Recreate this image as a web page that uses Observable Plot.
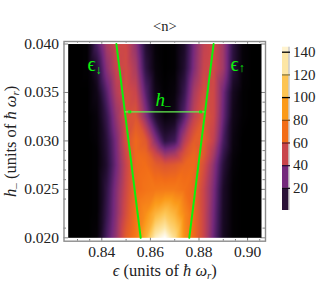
<!DOCTYPE html>
<html><head><meta charset="utf-8">
<script src="https://cdn.jsdelivr.net/npm/d3@7"></script>
<script src="https://cdn.jsdelivr.net/npm/@observablehq/plot@0.6"></script>
<style>
html,body{margin:0;padding:0;background:#fff}
#wrap{position:relative;width:316px;height:300px;overflow:hidden}
#wrap svg{position:absolute;left:0;top:0;background:transparent}
</style></head><body><div id="wrap"></div>
<script>
const epsilon = [.826,.83,.834,.838,.842,.846,.85,.854,.858,.862,.866,.87,.874,.878,.882,.886,.89,.894,.898,.902,.906];
const hRows = [.04,.0375,.035,.0325,.03,.02875,.0275,.025,.0225,.02];
const nRow040 = [0,0,1,22,42,52,52,36,12,2,0,1,10,31,48,53,40,15,2,0,0];
const nRow0375 = [0,0,1,12,35,50,53,42,16,3,0,1,12,33,50,53,40,14,2,0,0];
const nRow035 = [0,0,0,6,25,45,55,50,25,6,1,3,18,42,55,52,30,8,1,0,0];
const nRow0325 = [0,0,0,3,18,38,56,58,35,12,3,6,25,48,60,52,28,6,1,0,0];
const nRow030 = [0,0,0,2,14,32,55,68,60,35,15,20,45,62,62,48,22,4,0,0,0];
const nRow02875 = [0,0,0,1,13,31,52,68,66,50,36,40,56,66,60,42,18,3,0,0,0];
const nRow0275 = [0,0,0,1,12,30,50,68,70,62,58,60,66,68,55,36,14,2,0,0,0];
const nRow025 = [0,0,0,1,16,34,52,68,73,75,76,76,72,66,50,32,10,1,0,0,0];
const nRow0225 = [0,0,0,1,18,35,55,72,85,102,112,102,82,68,50,30,9,1,0,0,0];
const nRow020 = [0,0,0,2,22,38,62,76,100,135,145,125,85,68,50,28,8,1,0,0,0];
const nRows = [nRow040,nRow0375,nRow035,nRow0325,nRow030,nRow02875,nRow0275,nRow025,nRow0225,nRow020];
const colorStops = [0,10,20,30,40,50,60,70,90,110,130,145];
const colorRange = ["#000000","#1c0b28","#401a58","#74297c","#a03a68","#c9454c","#e05a2e","#f26d18","#fb9a1a","#fdc452","#fde6a4","#ffffff"];
const xMajor = [.84,.86,.88,.90];
const xMinor = [.83,.835,.85,.87,.89,.895,.905];
const yMajor = [.02,.025,.03,.035,.04];
const yMinor = [.021,.024,.026,.027,.028,.029,.032,.033,.034];
const lineDown = [{h:.02,e:.856},{h:.04,e:.846}];
const lineUp = [{h:.02,e:.876},{h:.04,e:.886}];
const gapH = .033, gapFrom = .8497, gapTo = .8825;
const barEdges = [0.5,20,40,60,80,100,120,140,144.4];
const barColors = ["#2a1238","#74297c","#c9454c","#f26d18","#fb9a1a","#fdc452","#fde6a4","#fff3cf"];
const barTicks = [20,40,60,80,100,120,140];
const barTickColors = ["#140818","#2a1238","#6b1a1a","#8a4a10","#000000","#8a7a40","#000000"];

const grid = hRows.flatMap((h,i)=>epsilon.map((e,j)=>({e,h,n:nRows[i][j]})));
const serif = "'Liberation Serif','Times New Roman',serif";
const green = "#0cf00c";

const main = Plot.plot({
  width:316,height:300,
  marginLeft:63.5,marginRight:51,marginTop:41,marginBottom:59.3,
  style:{fontFamily:serif,background:"transparent"},
  x:{domain:[.82444,.90737],axis:null},
  y:{domain:[.01965,.04026],axis:null},
  color:{type:"linear",domain:colorStops,range:colorRange,clamp:true},
  marks:[
    Plot.ruleX(xMajor,{stroke:"#808080",insetTop:196}),
    Plot.ruleX(xMinor,{stroke:"#808080",insetTop:198}),
    Plot.ruleX(xMajor,{stroke:"#808080",insetBottom:197}),
    Plot.ruleX(xMinor,{stroke:"#808080",insetBottom:198}),
    Plot.ruleY(yMajor,{stroke:"#808080",insetRight:197}),
    Plot.ruleY(yMinor,{stroke:"#808080",insetRight:199}),
    Plot.ruleY(yMajor,{stroke:"#808080",insetLeft:197}),
    Plot.ruleY(yMinor,{stroke:"#808080",insetLeft:199}),
    Plot.raster(grid,{x:"e",y:"h",fill:"n",interpolate:"barycentric",pixelSize:1,x1:.82617,x2:.90572,y1:.02,y2:.04}),
    Plot.frame({stroke:"#8c8c8c",strokeWidth:1.4}),
    Plot.axisX(xMajor,{anchor:"bottom",tickSize:0,tickPadding:5,fontSize:15.5,tickFormat:d3.format(".2f"),label:null,fill:"#222"}),
    Plot.axisY(yMajor,{anchor:"left",tickSize:0,tickPadding:5,fontSize:15.5,tickFormat:d3.format(".3f"),label:null,fill:"#222"}),
    Plot.line(lineDown,{x:"e",y:"h",stroke:green,strokeWidth:2}),
    Plot.line(lineUp,{x:"e",y:"h",stroke:green,strokeWidth:2}),
    Plot.ruleY([gapH],{x1:()=>gapFrom,x2:()=>gapTo,stroke:"#66f050",strokeWidth:1.2}),
    Plot.dot([gapFrom+.0018,gapTo-.0018],{x:d=>d,y:()=>gapH,r:1.7,symbol:"square",fill:green}),
    Plot.text(["ϵ↓"],{x:()=>.8341,y:()=>.0379,textAnchor:"start",fill:green,fontSize:20,fontFamily:serif}),
    Plot.text(["ϵ↑"],{x:()=>.8930,y:()=>.0379,textAnchor:"start",fill:green,fontSize:20,fontFamily:serif}),
    Plot.text(["h–"],{x:()=>.8621,y:()=>.0342,textAnchor:"start",fill:green,fontSize:19,fontFamily:serif}),
    Plot.text(["<n>"],{frameAnchor:"top",lineAnchor:"middle",dy:-15,fontSize:14.5,fill:"#222",fontFamily:serif}),
    Plot.text(["ϵ (units of ħ ωr)"],{frameAnchor:"bottom",dy:35,fontSize:16.5,fill:"#222",fontFamily:serif}),
    Plot.text(["h– (units of ħ ωr)"],{frameAnchor:"left",textAnchor:"middle",rotate:-90,dx:-53,fontSize:16.5,fill:"#222",fontFamily:serif})
  ]
});
const bands = barColors.map((c,i)=>({lo:barEdges[i],hi:barEdges[i+1],c}));
const bar = Plot.plot({
  width:316,height:300,
  marginLeft:282,marginRight:27.5,marginTop:46.7,marginBottom:90,
  style:{fontFamily:serif,background:"transparent"},
  x:{domain:[0,1],axis:null},
  y:{domain:[0.5,144.4],axis:null},
  marks:[
    Plot.rect(bands,{x1:()=>0,x2:()=>1,y1:"lo",y2:"hi",fill:"c"}),
    Plot.ruleX([1],{stroke:"#b0b0b0",strokeWidth:1}),
    Plot.ruleY(barTicks,{stroke:(d,i)=>barTickColors[i],strokeWidth:1.3,insetRight:-1.5}),
    Plot.text(barTicks,{x:()=>1,y:d=>d,text:d=>String(d),textAnchor:"start",dx:4,fontSize:15,fill:"#222",fontFamily:serif})
  ]
});
const richText = new Map([
  ["ϵ↓",'ϵ<tspan font-size="12" dy="3">↓</tspan>'],
  ["ϵ↑",'ϵ<tspan font-size="12" dy="1">↑</tspan>'],
  ["h–",'<tspan font-style="italic">h</tspan><tspan font-size="11" dy="3">–</tspan>'],
  ["ϵ (units of ħ ωr)",'<tspan font-style="italic">ϵ</tspan> (units of <tspan font-style="italic">ħ ω</tspan><tspan font-size="11" dy="3" font-style="italic">r</tspan><tspan dy="-3">)</tspan>'],
  ["h– (units of ħ ωr)",'<tspan font-style="italic">h</tspan><tspan font-size="11" dy="3">–</tspan><tspan dy="-3"> (units of </tspan><tspan font-style="italic">ħ ω</tspan><tspan font-size="11" dy="3" font-style="italic">r</tspan><tspan dy="-3">)</tspan>']
]);
for (const t of main.querySelectorAll("text")) {
  const html = richText.get(t.textContent);
  if (html) t.innerHTML = html;
}
document.getElementById("wrap").append(main,bar);
</script></body></html>
